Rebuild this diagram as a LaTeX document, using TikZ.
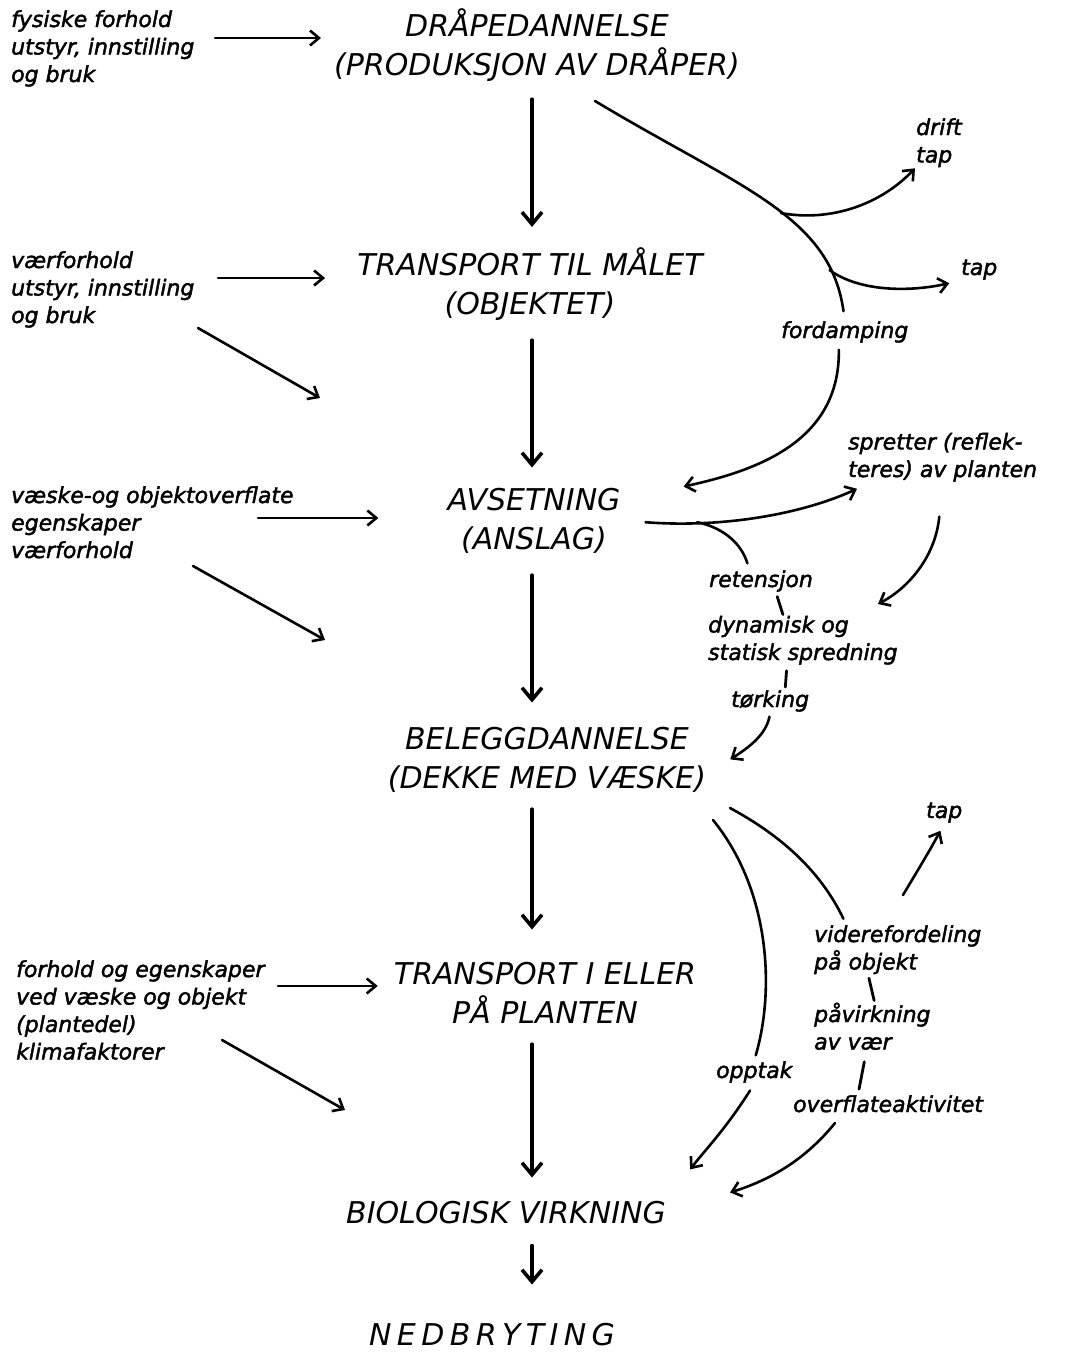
\documentclass[tikz,border=0pt]{standalone}
\usepackage{fontspec}
\newfontfamily\hand{DejaVu Sans}
\newfontfamily\handnote[FakeBold=2]{DejaVu Sans}
\newfontfamily\handwide[LetterSpace=18]{DejaVu Sans}
\usetikzlibrary{arrows.meta}
\begin{document}
\begin{tikzpicture}[x=1pt, y=-1pt, line cap=round, line join=round,
    stage/.style={anchor=base, align=center, inner sep=1pt,
      font=\hand\itshape\fontsize{30}{39}\selectfont},
    note/.style={anchor=base west, align=left, inner sep=1pt,
      font=\handnote\itshape\fontsize{22}{27.5}\selectfont},
    flow/.style={line width=3.6pt, -{Straight Barb[length=12pt,width=20pt]}},
    feed/.style={line width=2.6pt, -{Straight Barb[length=9pt,width=15pt]}},
    link/.style={line width=2.6pt},
    tick/.style={line width=2.8pt}]
  \useasboundingbox (0,0) rectangle (1067,1354);
  \node[stage] (drape) at (537,75) {DRÅPEDANNELSE\\(PRODUKSJON AV DRÅPER)};
  \node[stage] (target) at (530,314) {TRANSPORT TIL MÅLET\\(OBJEKTET)};
  \node[stage] (deposit) at (534,549) {AVSETNING\\(ANSLAG)};
  \node[stage] (cover) at (547,788) {BELEGGDANNELSE\\(DEKKE MED VÆSKE)};
  \node[stage] (plant) at (545,1023) {TRANSPORT I ELLER\\PÅ PLANTEN};
  \node[stage] (effect) at (506,1223) {BIOLOGISK VIRKNING};
  \node[stage, font=\handwide\itshape\fontsize{30}{39}\selectfont] (decay) at (492,1345) {NEDBRYTING};
  \node[note] (physics) at (10,82) {fysiske forhold\\utstyr, innstilling\\og bruk};
  \node[note] (weather) at (10,323) {værforhold\\utstyr, innstilling\\og bruk};
  \node[note] (liquid) at (10,558) {væske-og objektoverflate\\egenskaper\\værforhold};
  \node[note] (climate) at (15,1059.5) {forhold og egenskaper\\ved væske og objekt\\(plantedel)\\klimafaktorer};
  \node[note] (drift) at (915,162.5) {drift\\tap};
  \node[note] (loss) at (960,275) {tap};
  \node[note] (evap) at (780,338) {fordamping};
  \node[note] (bounce) at (847,477) {spretter (reflek-\\teres) av planten};
  \node[note] (retention) at (708,587) {retensjon};
  \node[note] (spread) at (707,660) {dynamisk og\\statisk spredning};
  \node[note] (drying) at (730,707) {tørking};
  \node[note] (leaf) at (925,818) {tap};
  \node[note] (redist) at (813,969.5) {viderefordeling\\på objekt};
  \node[note] (exposure) at (813,1049.5) {påvirkning\\av vær};
  \node[note] (activity) at (792,1112) {overflateaktivitet};
  \node[note] (uptake) at (715,1078) {opptak};
  \coordinate (axis) at (532,0);
  \draw[flow, shorten <=17pt, shorten >=19pt] (drape.south -| axis) -- (target.north -| axis);
  \draw[flow, shorten <=19pt, shorten >=19pt] (target.south -| axis) -- (deposit.north -| axis);
  \draw[flow, shorten <=21pt, shorten >=23pt] (deposit.south -| axis) -- (cover.north -| axis);
  \draw[flow, shorten <=16pt, shorten >=31pt] (cover.south -| axis) -- (plant.north -| axis);
  \draw[flow, shorten <=20pt, shorten >=22pt] (plant.south -| axis) -- (effect.north -| axis);
  \draw[flow, shorten <=21pt, shorten >=37pt] (effect.south -| axis) -- (decay.north -| axis);
  \coordinate (f1) at (215,38);
  \coordinate (f2) at (218,278);
  \coordinate (f3) at (258,518);
  \coordinate (f4) at (278,986);
  \draw[feed, shorten >=12pt] (f1) -- (f1 -| drape.west);
  \draw[feed, shorten >=31pt] (f2) -- (f2 -| target.west);
  \draw[feed, shorten >=68pt] (f3) -- (f3 -| deposit.west);
  \draw[feed, shorten >=15pt] (f4) -- (f4 -| plant.west);
  \coordinate (g2) at (198,328);
  \coordinate (h2) at (320,398);
  \coordinate (g3) at (193,566);
  \coordinate (h3) at (325,640);
  \coordinate (g4) at (222,1040);
  \coordinate (h4) at (345,1110);
  \draw[feed] (g2) -- (h2);
  \draw[feed] (g3) -- (h3);
  \draw[feed] (g4) -- (h4);
  \coordinate (drift0) at (595,101);
  \draw[link, shorten >=9pt] (drift0) .. controls (740,188) and (830,215) .. (evap.north)
    coordinate[pos=0.55] (fork1) coordinate[pos=0.82] (fork2);
  \draw[feed] (fork1) .. controls (830,222) and (880,205) .. (drift.south west);
  \draw[feed, shorten >=11pt] (fork2) .. controls (860,292) and (910,292) .. (loss.south west);
  \draw[feed, shorten <=6pt] ([xshift=-6pt]evap.south) .. controls (840,440) and (760,470) .. ([xshift=62pt]deposit.north east);
  \draw[feed, shorten <=24pt] (deposit.east) .. controls (720,528) and (800,515) .. ([xshift=10pt,yshift=-6pt]bounce.south west)
    coordinate[pos=0.27] (fork3);
  \draw[link, shorten >=6pt] (fork3) .. controls (725,528) and (742,545) .. ([xshift=-12pt]retention.north);
  \coordinate (backtip) at (878,604);
  \draw[feed, shorten <=34pt] (bounce.south) .. controls (935,560) and (905,590) .. (backtip);
  \draw[tick, shorten <=4pt] ([xshift=15pt]retention.south) -- ([xshift=-20pt]spread.north);
  \draw[tick, shorten <=5pt, shorten >=2pt] ([xshift=-16pt]spread.south) -- ([xshift=15pt]drying.north);
  \draw[feed, shorten <=4pt] (drying.south) .. controls (766,735) and (748,748) .. ([xshift=23pt]cover.east);
  \coordinate (up0) at (713,820);
  \draw[link, shorten >=5pt] (up0) .. controls (770,890) and (775,990) .. (uptake.north);
  \draw[feed, shorten <=8pt, shorten >=38pt] (uptake.south) .. controls (725,1130) and (705,1150) .. (effect.north east);
  \coordinate (re0) at (730,808);
  \draw[link, shorten >=6pt] (re0) .. controls (780,835) and (820,870) .. ([xshift=33pt]redist.north west);
  \coordinate (lift0) at (903,895);
  \draw[feed, shorten >=8pt] (lift0) .. controls (918,870) and (930,850) .. (leaf.south);
  \draw[tick, shorten <=3pt, shorten >=1pt] ([xshift=-29.5pt]redist.south) -- ([xshift=2pt]exposure.north);
  \draw[tick, shorten <=11pt, shorten >=5pt] ([xshift=-6pt]exposure.south) -- ([xshift=-30pt]activity.north);
  \coordinate (sink0) at (835,1123);
  \draw[feed, shorten >=66pt] (sink0) .. controls (805,1160) and (770,1180) .. (effect.east);
\end{tikzpicture}
\end{document}
